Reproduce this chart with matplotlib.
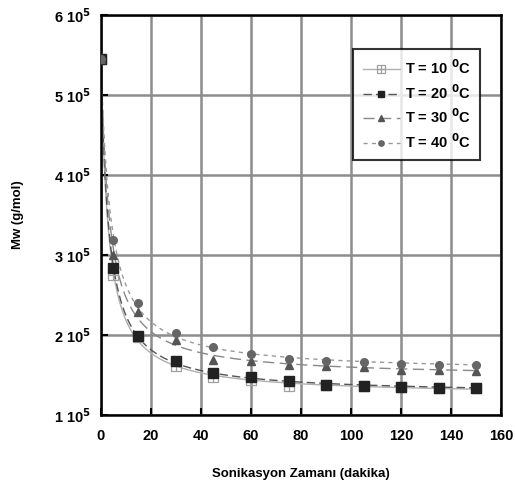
import numpy as np
import matplotlib.pyplot as plt
from matplotlib.path import Path

plt.rcParams['font.family'] = ['Liberation Sans', 'DejaVu Sans']
plt.rcParams['font.weight'] = 'bold'
plt.rcParams['axes.labelweight'] = 'bold'
plt.rcParams['mathtext.default'] = 'bf'

# sonication time (min) and Mw (g/mol) at four temperatures
t = [0, 5, 15, 30, 45, 60, 75, 90, 105, 120, 135, 150]
mw_10 = [5.45e5, 2.75e5, 1.98e5, 1.61e5, 1.47e5, 1.44e5, 1.36e5, 1.37e5, 1.36e5, 1.355e5, 1.34e5, 1.34e5]
mw_20 = [5.45e5, 2.84e5, 1.99e5, 1.675e5, 1.53e5, 1.47e5, 1.43e5, 1.37e5, 1.36e5, 1.355e5, 1.34e5, 1.34e5]
mw_30 = [5.45e5, 3.00e5, 2.29e5, 1.94e5, 1.69e5, 1.67e5, 1.625e5, 1.61e5, 1.60e5, 1.56e5, 1.56e5, 1.555e5]
mw_40 = [5.45e5, 3.19e5, 2.40e5, 2.02e5, 1.85e5, 1.76e5, 1.70e5, 1.68e5, 1.66e5, 1.64e5, 1.63e5, 1.62e5]

labels = [r'T = 10 $^0$C', r'T = 20 $^0$C', r'T = 30 $^0$C', r'T = 40 $^0$C']
yticks = [1e5, 2e5, 3e5, 4e5, 5e5, 6e5]
ytick_labels = [r'1 10$^5$', r'2 10$^5$', r'3 10$^5$', r'4 10$^5$', r'5 10$^5$', r'6 10$^5$']


def fit_curve(x, y, tt):
    # least squares fit of y = a + b / (x + c), c picked by a small scan
    x = np.asarray(x, float)
    y = np.asarray(y, float)
    best = None
    for c in np.linspace(0.2, 20, 200):
        A = np.column_stack([np.ones_like(x), 1.0 / (x + c)])
        coef, res, _, _ = np.linalg.lstsq(A, y, rcond=None)
        err = np.sum((A @ coef - y) ** 2)
        if best is None or err < best[0]:
            best = (err, c, coef)
    _, c, coef = best
    return coef[0] + coef[1] / (tt + c)


# open square with a cross inside
box_plus = Path(
    [(-1, -1), (1, -1), (1, 1), (-1, 1), (-1, -1), (0, -1), (0, 1), (-1, 0), (1, 0)],
    [Path.MOVETO, Path.LINETO, Path.LINETO, Path.LINETO, Path.CLOSEPOLY,
     Path.MOVETO, Path.LINETO, Path.MOVETO, Path.LINETO])

fig = plt.figure(figsize=(5.15, 4.9), dpi=100)
ax = fig.add_axes([0.196, 0.153, 0.777, 0.816])

tt = np.linspace(0, 150, 600)
styles = [
    dict(data=mw_10, color='#b0b0b0', ls='-', marker=box_plus, ms=7.5, mfc='none', mec='#a0a0a0', mew=0.9),
    dict(data=mw_20, color='#555555', ls=(0, (6, 3)), marker='s', ms=7, mfc='#222222', mec='#222222', mew=1),
    dict(data=mw_30, color='#888888', ls=(0, (8, 4)), marker='^', ms=6, mfc='#555555', mec='#555555', mew=1),
    dict(data=mw_40, color='#999999', ls=(0, (3, 3)), marker='o', ms=5.5, mfc='#666666', mec='#666666', mew=1),
]

for s in styles:
    ax.plot(tt, fit_curve(t, s['data'], tt), color=s['color'], ls=s['ls'], lw=1.0, zorder=2)
    ax.plot(t, s['data'], ls='none', marker=s['marker'], ms=s['ms'],
            mfc=s['mfc'], mec=s['mec'], mew=s['mew'], zorder=3)

# legend entries combine line + marker
handles = []
for s, lab in zip(styles, labels):
    h, = ax.plot([], [], color=s['color'], ls=s['ls'], lw=1.0, marker=s['marker'],
                 ms=s['ms'], mfc=s['mfc'], mec=s['mec'], mew=s['mew'], label=lab)
    handles.append(h)

leg = ax.legend(handles=handles, loc='upper left', bbox_to_anchor=(0.63, 0.915),
                frameon=True, fancybox=False, fontsize=10.5, handlelength=2.6,
                borderpad=0.65, labelspacing=0.4, handletextpad=0.3, markerscale=0.7,
                borderaxespad=0)
leg.get_frame().set_edgecolor('black')
leg.get_frame().set_linewidth(1.5)
leg.set_zorder(5)

ax.set_xlim(0, 160)
ax.set_ylim(1e5, 6e5)
ax.set_xticks(range(0, 161, 20))
ax.set_yticks(yticks)
ax.set_yticklabels(ytick_labels)
ax.tick_params(direction='in', length=5, width=1.5, labelsize=10.5, pad=7)
ax.tick_params(axis='x', pad=10)
ax.grid(True, color='#8c8c8c', lw=1.8)
ax.set_axisbelow(True)
for sp in ax.spines.values():
    sp.set_linewidth(1.8)

ax.set_xlabel('Sonikasyon Zamanı (dakika)', fontsize=9.5, labelpad=18)
ax.set_ylabel('Mw (g/mol)', fontsize=9.5, labelpad=22)

fig.savefig('out.png', dpi=100)
